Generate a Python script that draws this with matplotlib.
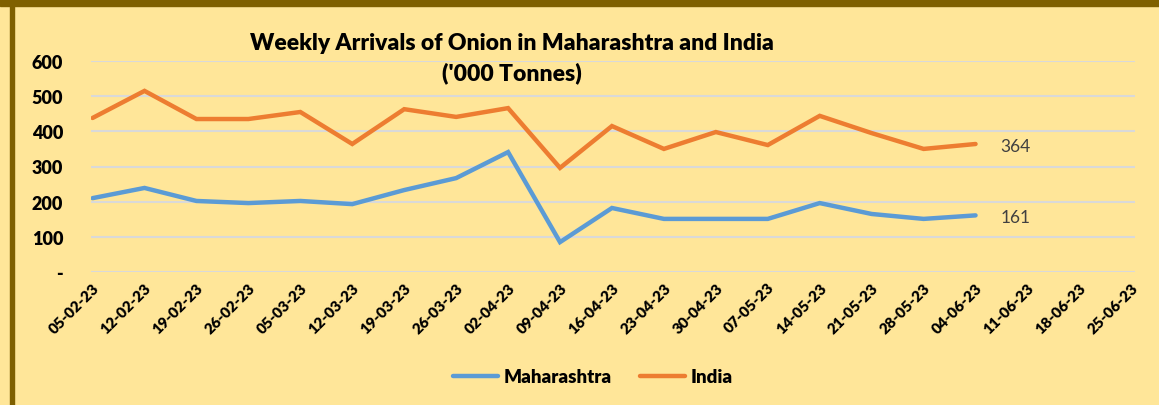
import matplotlib
matplotlib.use("Agg")
import matplotlib.pyplot as plt
from matplotlib.patches import Rectangle

# weekly arrivals ('000 tonnes)
weeks = ['05-02-23', '12-02-23', '19-02-23', '26-02-23', '05-03-23', '12-03-23',
         '19-03-23', '26-03-23', '02-04-23', '09-04-23', '16-04-23', '23-04-23',
         '30-04-23', '07-05-23', '14-05-23', '21-05-23', '28-05-23', '04-06-23',
         '11-06-23', '18-06-23', '25-06-23']
maharashtra = [210, 239, 202, 196, 202, 193, 233, 267, 341, 85, 182, 151,
               151, 151, 196, 165, 151, 161]
india = [438, 515, 435, 435, 455, 364, 463, 441, 466, 296, 415, 350,
         398, 361, 444, 395, 350, 364]

bg = '#FFE699'
plt.rcParams['font.family'] = ['Lato', 'DejaVu Sans']

fig = plt.figure(figsize=(11.59, 4.06), dpi=100, facecolor=bg)

# dark gold frame along top and left edge
fig.patches.append(Rectangle((0, 1 - 7 / 406), 1, 7 / 406, transform=fig.transFigure,
                             color='#7F6000', zorder=0))
fig.patches.append(Rectangle((10 / 1159, 0), 4 / 1159, 1 - 7 / 406, transform=fig.transFigure,
                             color='#7F6000', zorder=0))

ax = fig.add_axes([91 / 1159, 1 - 273 / 406, (1135 - 91) / 1159, (273 - 62) / 406])
ax.set_facecolor(bg)

x = list(range(len(weeks)))
n = len(maharashtra)
ax.plot(x[:n], maharashtra, color='#5B9BD5', lw=3.2, label='Maharashtra',
        solid_capstyle='round', solid_joinstyle='miter')
ax.plot(x[:n], india, color='#ED7D31', lw=3.2, label='India',
        solid_capstyle='round', solid_joinstyle='miter')

# end-of-series data labels
ax.text(x[n - 1] + 0.48, maharashtra[-1] - 5, str(maharashtra[-1]), color='#404040',
        fontsize=12.5, va='center', ha='left')
ax.text(x[n - 1] + 0.48, india[-1] - 5, str(india[-1]), color='#404040',
        fontsize=12.5, va='center', ha='left')

ax.set_xlim(-0.03, 20.07)
ax.set_ylim(0, 600)
ax.set_yticks([0, 100, 200, 300, 400, 500, 600])
ax.set_yticklabels(['-', '100', '200', '300', '400', '500', '600'],
                   fontweight='heavy', fontsize=13)
ax.set_xticks(x)
ax.set_xticklabels(weeks, rotation=45, ha='right', rotation_mode='anchor',
                   fontweight='heavy', fontsize=11)
ax.tick_params(axis='both', length=0)
ax.tick_params(axis='x', pad=6)
ax.tick_params(axis='y', pad=20)
ax.grid(axis='y', color='#D9D9D9', lw=1.5)
ax.set_axisbelow(True)
for s in ax.spines.values():
    s.set_visible(False)

fig.text(512 / 1159, 1 - 43 / 406, 'Weekly Arrivals of Onion in Maharashtra and India',
         ha='center', va='center', fontsize=16.5, fontweight='heavy')
fig.text(512 / 1159, 1 - 73 / 406, "('000 Tonnes)",
         ha='center', va='center', fontsize=16.5, fontweight='heavy')

fig.legend(loc='center', bbox_to_anchor=(593 / 1159, 1 - 378 / 406), ncol=2,
           frameon=False, prop={'weight': 'heavy', 'size': 13.5},
           handlelength=2.4, handletextpad=0.3, columnspacing=1.5)

fig.savefig('out.png', dpi=100, facecolor=bg)
